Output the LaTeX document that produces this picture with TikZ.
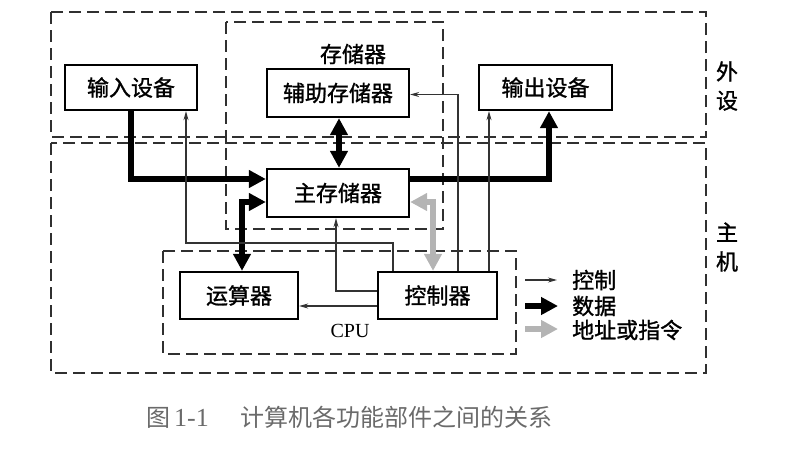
\documentclass[tikz,border=0pt]{standalone}
\usepackage{fontspec}
\setmainfont{Liberation Serif}
\newfontfamily\cjk{Noto Sans CJK SC}
\newfontfamily\cjkb{Noto Sans CJK SC}[FakeBold=1.2]
\usetikzlibrary{arrows.meta}
\definecolor{grpcol}{HTML}{303030}
\definecolor{addrcol}{HTML}{B4B4B4}
\definecolor{capcol}{HTML}{6A6A6A}
\begin{document}
\begin{tikzpicture}[x=1pt,y=-1pt,
  box/.style={draw=black, line width=2.3pt, inner sep=0pt, fill=white,
    font=\cjkb\fontsize{22}{26}\selectfont},
  grp/.style={draw=grpcol, line width=2pt, dash pattern=on 12pt off 6pt},
  lbl/.style={inner sep=0pt, font=\cjkb\fontsize{22}{29}\selectfont, align=center},
  data/.style={draw=black, line width=6pt, -{Triangle[length=17pt,width=17pt]}},
  data2/.style={draw=black, line width=6pt, {Triangle[length=17pt,width=17pt]}-{Triangle[length=17pt,width=17pt]}},
  addr2/.style={draw=addrcol, line width=6pt, {Triangle[length=17pt,width=17pt]}-{Triangle[length=17pt,width=17pt]}},
  addr/.style={draw=addrcol, line width=6pt, -{Triangle[length=17pt,width=17pt]}},
  ctrl/.style={draw=black!80, line width=1.1pt, -{Stealth[length=9pt,width=5pt]}}
]
\useasboundingbox (0,0) rectangle (797,450);

% dashed groups
\draw[grp] (51,12) rectangle (706,137);
\draw[grp] (51,143) rectangle (706,373);
\draw[grp] (226,22) rectangle (443,229);
\draw[grp] (163,251) rectangle (516,354);

% boxes
\node[box, minimum width=132pt, minimum height=45pt] (in)  at (131,87.5) {输入设备};
\node[box, minimum width=142pt, minimum height=48pt] (aux) at (338,93)   {辅助存储器};
\node[box, minimum width=133pt, minimum height=45pt] (out) at (545.5,87.5) {输出设备};
\node[box, minimum width=142pt, minimum height=48pt] (mem) at (338,193)  {主存储器};
\node[box, minimum width=118pt, minimum height=47pt] (alu) at (239,295.5) {运算器};
\node[box, minimum width=119pt, minimum height=47pt] (ctl) at (437.5,295.5) {控制器};

% labels
\node[lbl] (lstore) at (353,54) {存储器};
\node[lbl] (lwai) at (727,86) {外\\设};
\node[lbl] (lzhu) at (727,247) {主\\机};
\node[inner sep=0pt, font=\fontsize{20}{22}\selectfont] (lcpu) at (350,331) {CPU};

% data connectors
\draw[data] (in.south) |- ([yshift=14pt]mem.west);
\draw[data] ([yshift=14pt]mem.east) -| ([xshift=3.5pt]out.south);
\draw[data2] ([xshift=1pt]aux.south) -- ([xshift=1pt]mem.north);
\draw[data2] ([xshift=3pt]alu.north) |- ([yshift=-9pt]mem.west);
\draw[addr2] ([yshift=-9pt]mem.east) -| ([xshift=-4.5pt]ctl.north);

% control connectors
\coordinate (c1) at (186,243);
\draw[ctrl] ([xshift=-44.5pt]ctl.north) |- (c1) -- ([xshift=55pt]in.south);
\draw[ctrl] ([yshift=4.5pt]ctl.west) -| ([xshift=-2pt]mem.south);
\draw[ctrl] ([yshift=-10.5pt]ctl.west) -- ([yshift=-10.5pt]alu.east);
\draw[ctrl] ([xshift=20.5pt]ctl.north) |- ([yshift=-1.5pt]aux.east);
\draw[ctrl] ([xshift=51.5pt]ctl.north) -- ([xshift=-56.5pt]out.south);

% legend
\coordinate (g1a) at (525,280); \coordinate (g1b) at (557,280);
\coordinate (g2a) at (525,306); \coordinate (g2b) at (558,306);
\coordinate (g3a) at (525,329); \coordinate (g3b) at (558,329);
\draw[ctrl] (g1a) -- (g1b);
\draw[data] (g2a) -- (g2b);
\draw[addr] (g3a) -- (g3b);
\node[lbl, anchor=west] (t1) at (572,280) {控制};
\node[lbl, anchor=west] (t2) at (572,306) {数据};
\node[lbl, anchor=west] (t3) at (572,330) {地址或指令};

% caption
\node[anchor=west, inner sep=0pt, text=capcol, font=\cjk\fontsize{24}{28}\selectfont] (cap) at (146,417)
  {图\,{\rmfamily\fontsize{26}{28}\selectfont 1-1}\hspace{32pt}计算机各功能部件之间的关系};
\end{tikzpicture}
\end{document}
